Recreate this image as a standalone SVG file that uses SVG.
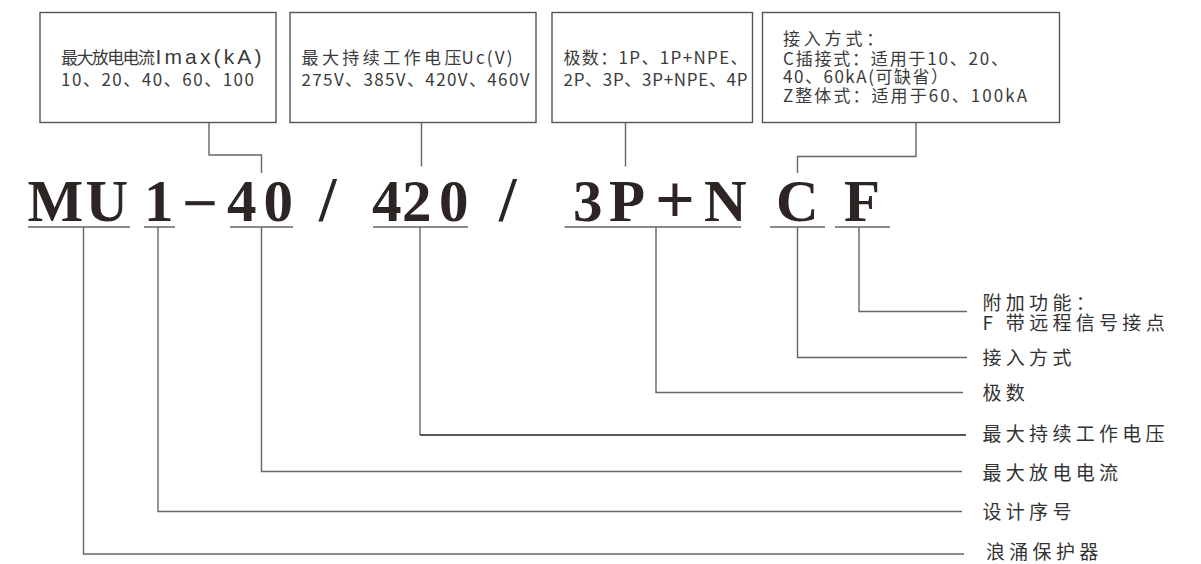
<svg xmlns="http://www.w3.org/2000/svg" width="1201" height="564" viewBox="0 0 1201 564">
<style>
.box{fill:none;stroke:#555;stroke-width:1.4}
.ln{fill:none;stroke:#666;stroke-width:1.4}
.dk{fill:none;stroke:#222;stroke-width:1.4}
.big{font-family:"Liberation Serif","Times New Roman",serif;font-weight:bold;font-size:59px;fill:#2d2523}
.bt{font-family:"Noto Sans CJK SC","Noto Sans",sans-serif;font-size:17px;fill:#3b3b3b}
.lat{font-family:"Liberation Sans","Noto Sans",sans-serif;font-size:21px;fill:#3b3b3b}
.lbl{font-family:"Noto Sans CJK SC","Noto Sans",sans-serif;font-size:19px;letter-spacing:4.3px;fill:#333}
</style>
<rect width="1201" height="564" fill="#fff"/>

<g id="box-imax">
<rect class="box" x="40" y="12.5" width="236" height="110"/>
<text class="bt" x="61" y="64" textLength="94" lengthAdjust="spacing">最大放电电流</text>
<text class="lat" x="155.5" y="64" textLength="106" lengthAdjust="spacing">Imax(kA)</text>
<text class="bt" x="61" y="85.5" textLength="193" lengthAdjust="spacing">10、20、40、60、100</text>
</g>

<g id="box-uc">
<rect class="box" x="290" y="12.5" width="246" height="110"/>
<text class="bt" x="301.5" y="64" textLength="160" lengthAdjust="spacing">最大持续工作电压</text>
<text class="bt" x="461.5" y="64" textLength="51" lengthAdjust="spacing">Uc(V)</text>
<text class="bt" x="301.5" y="85.5" textLength="228" lengthAdjust="spacing">275V、385V、420V、460V</text>
</g>

<g id="box-poles">
<rect class="box" x="552" y="12.5" width="200.5" height="110"/>
<text class="bt" x="563.5" y="64" textLength="184" lengthAdjust="spacing">极数：1P、1P+NPE、</text>
<text class="bt" x="563.5" y="85.5" textLength="184" lengthAdjust="spacing">2P、3P、3P+NPE、4P</text>
</g>

<g id="box-conn">
<rect class="box" x="762.5" y="12.5" width="297" height="110"/>
<text class="bt" x="783" y="44.5" style="letter-spacing:3.8px">接入方式：</text>
<text class="bt" x="783" y="64.5" textLength="225" lengthAdjust="spacing">C插接式：适用于10、20、</text>
<text class="bt" x="783" y="83" textLength="165" lengthAdjust="spacing">40、60kA(可缺省）</text>
<text class="bt" x="783" y="101.5" textLength="244" lengthAdjust="spacing">Z整体式：适用于60、100kA</text>
</g>

<g id="model">
<text class="big" x="27.5" y="221">M</text>
<text class="big" x="85.5" y="221">U</text>
<text class="big" x="144" y="221">1</text>
<text class="big" x="182" y="222.5" textLength="36" lengthAdjust="spacingAndGlyphs">−</text>
<text class="big" x="227" y="221">4</text>
<text class="big" x="263.5" y="221">0</text>
<text class="big" x="319" y="221" style="font-size:63px">/</text>
<text class="big" x="372" y="221">4</text>
<text class="big" x="402" y="221">2</text>
<text class="big" x="439" y="221">0</text>
<text class="big" x="499" y="221" style="font-size:63px">/</text>
<text class="big" x="573" y="221">3</text>
<text class="big" x="609" y="221">P</text>
<text class="big" x="655" y="223" style="font-size:70px">+</text>
<text class="big" x="704" y="221">N</text>
<text class="big" x="776" y="221">C</text>
<text class="big" x="844" y="221">F</text>
</g>

<g id="labels">
<text class="lbl" x="982.5" y="309.5">附加功能：</text>
<text class="lbl" x="982.5" y="330">F 带远程信号接点</text>
<text class="lbl" x="982.5" y="365">接入方式</text>
<text class="lbl" x="982.5" y="400">极数</text>
<text class="lbl" x="982.5" y="441">最大持续工作电压</text>
<text class="lbl" x="982.5" y="480">最大放电电流</text>
<text class="lbl" x="982.5" y="518.5">设计序号</text>
<text class="lbl" x="986" y="558.5">浪涌保护器</text>
</g>

<g id="connectors">
<path class="ln" d="M209 122.5V155H261.5V173"/>
<path class="ln" d="M421.5 122.5V166.5"/>
<path class="ln" d="M625.5 122.5V166.5"/>
<path class="ln" d="M916 122.5V156.5H797.5V173"/>
<path class="ln" d="M28 227H130M144 227H175M230 227H293M373 227H468M564.5 227H741M770 227H825M835 227H890"/>
<path class="ln" d="M859 227V311.5H967"/>
<path class="ln" d="M797.5 227V357.5H967"/>
<path class="ln" d="M656 227V392.5H963"/>
<path class="ln" d="M420 227V435"/>
<path class="dk" d="M420 435H966"/>
<path class="ln" d="M261.5 227V471.5H962"/>
<path class="ln" d="M158 227V511.5H962"/>
<path class="ln" d="M83.5 227V554H964"/>
</g>
</svg>
